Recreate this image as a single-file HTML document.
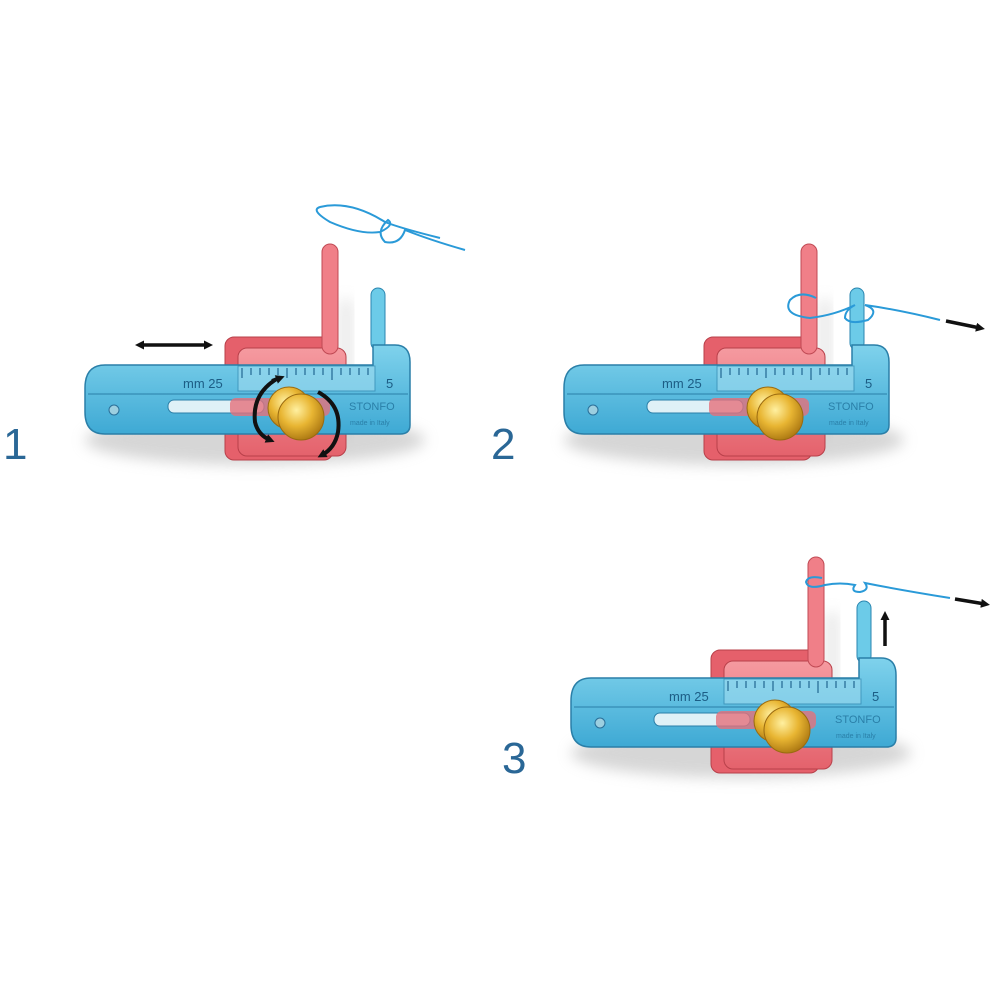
<!DOCTYPE html>
<html><head><meta charset="utf-8"><style>
html,body{margin:0;padding:0;background:#fff;width:1000px;height:1000px;overflow:hidden}
svg{display:block}
text{font-family:"Liberation Sans",sans-serif}
</style></head><body>
<svg width="1000" height="1000" viewBox="0 0 1000 1000" xmlns="http://www.w3.org/2000/svg">
<defs>
<filter id="blur" x="-20%" y="-50%" width="140%" height="200%"><feGaussianBlur stdDeviation="7"/></filter>
<radialGradient id="gold" cx="40%" cy="35%" r="70%"><stop offset="0" stop-color="#fff0a0"/><stop offset="0.5" stop-color="#e8b532"/><stop offset="1" stop-color="#a87410"/></radialGradient>
<linearGradient id="blue" x1="0" y1="0" x2="0" y2="1"><stop offset="0" stop-color="#7fd2ec"/><stop offset="1" stop-color="#3ea9d4"/></linearGradient>
<linearGradient id="red" x1="0" y1="0" x2="0" y2="1"><stop offset="0" stop-color="#f59aa0"/><stop offset="1" stop-color="#e4626c"/></linearGradient>
<marker id="ah" markerWidth="9" markerHeight="9" refX="4" refY="4.5" orient="auto-start-reverse" markerUnits="userSpaceOnUse"><path d="M0,0 L9,4.5 L0,9z" fill="#111"/></marker>
</defs>

<!-- TOOL 1 -->
<g>
<ellipse cx="255" cy="440" rx="170" ry="25" fill="#bbb" opacity="0.6" filter="url(#blur)"/>
<rect x="340" y="300" width="12" height="140" fill="#ccc" opacity="0.5" filter="url(#blur)"/>
<rect x="225" y="337" width="108" height="123" rx="9" fill="#e5606b" stroke="#b8404a"/>
<rect x="238" y="348" width="108" height="108" rx="9" fill="url(#red)" stroke="#b8404a"/>
<rect x="322" y="244" width="16" height="110" rx="8" fill="#f07f88" stroke="#c04a54"/>
<rect x="371" y="288" width="14" height="62" rx="7" fill="#6ccbe8" stroke="#2a86b0"/>
<path d="M105 365 H373 V345 H395 Q410 345 410 362 V425 Q410 434 400 434 H105 Q85 434 85 412 V388 Q85 365 105 365Z" fill="url(#blue)" stroke="#2a7fa8" stroke-width="1.5"/>
<line x1="88" y1="394" x2="408" y2="394" stroke="#2a7fa8"/>
<rect x="238" y="366" width="137" height="25" fill="#9fdcf0" opacity="0.6" stroke="#2a7fa8"/>
<path d="M242 368v10M251 368v7M260 368v7M269 368v7M278 368v7M287 368v10M296 368v7M305 368v7M314 368v7M323 368v7M332 368v12M341 368v7M350 368v7M359 368v7M368 368v7" stroke="#2a6f98" stroke-width="1.3"/>
<text x="183" y="388" font-size="13" fill="#1c5d85">mm 25</text>
<text x="386" y="388" font-size="13" fill="#1c5d85">5</text>
<text x="349" y="410" font-size="11" fill="#2a7fa8">STONFO</text>
<text x="350" y="425" font-size="7" fill="#2a7fa8">made in Italy</text>
<rect x="168" y="400" width="96" height="13" rx="6" fill="#dff1f7" stroke="#2a7fa8"/>
<rect x="230" y="398" width="100" height="18" rx="6" fill="#e5707a" opacity="0.8"/>
<circle cx="114" cy="410" r="5" fill="#9ccfe0" stroke="#2a6f98"/>
<circle cx="289" cy="408" r="21" fill="url(#gold)" stroke="#9a6a10"/>
<circle cx="301" cy="417" r="23" fill="url(#gold)" stroke="#9a6a10"/>
</g>
<path d="M140 345 H208" stroke="#111" stroke-width="3.5" marker-start="url(#ah)" marker-end="url(#ah)"/>
<path d="M275 380 Q252 395 255 422 Q258 435 270 440" fill="none" stroke="#111" stroke-width="4" marker-end="url(#ah)"/>
<path d="M272 381 l8 -3" stroke="#111" stroke-width="4" marker-end="url(#ah)"/>
<path d="M318 392 Q342 405 338 432 Q335 448 322 455" fill="none" stroke="#111" stroke-width="4" marker-end="url(#ah)"/>
<path d="M320 207 Q310 210 330 222 Q360 235 380 232 Q395 225 388 220 Q375 232 385 242 Q400 245 405 230 Q430 240 465 250 M320 207 Q350 200 385 222 Q400 228 440 238" fill="none" stroke="#2a9ad8" stroke-width="2"/>

<!-- TOOL 2 -->
<g transform="translate(479,0)">
<ellipse cx="255" cy="440" rx="170" ry="25" fill="#bbb" opacity="0.6" filter="url(#blur)"/>
<rect x="340" y="300" width="12" height="140" fill="#ccc" opacity="0.5" filter="url(#blur)"/>
<rect x="225" y="337" width="108" height="123" rx="9" fill="#e5606b" stroke="#b8404a"/>
<rect x="238" y="348" width="108" height="108" rx="9" fill="url(#red)" stroke="#b8404a"/>
<rect x="322" y="244" width="16" height="110" rx="8" fill="#f07f88" stroke="#c04a54"/>
<rect x="371" y="288" width="14" height="62" rx="7" fill="#6ccbe8" stroke="#2a86b0"/>
<path d="M105 365 H373 V345 H395 Q410 345 410 362 V425 Q410 434 400 434 H105 Q85 434 85 412 V388 Q85 365 105 365Z" fill="url(#blue)" stroke="#2a7fa8" stroke-width="1.5"/>
<line x1="88" y1="394" x2="408" y2="394" stroke="#2a7fa8"/>
<rect x="238" y="366" width="137" height="25" fill="#9fdcf0" opacity="0.6" stroke="#2a7fa8"/>
<path d="M242 368v10M251 368v7M260 368v7M269 368v7M278 368v7M287 368v10M296 368v7M305 368v7M314 368v7M323 368v7M332 368v12M341 368v7M350 368v7M359 368v7M368 368v7" stroke="#2a6f98" stroke-width="1.3"/>
<text x="183" y="388" font-size="13" fill="#1c5d85">mm 25</text>
<text x="386" y="388" font-size="13" fill="#1c5d85">5</text>
<text x="349" y="410" font-size="11" fill="#2a7fa8">STONFO</text>
<text x="350" y="425" font-size="7" fill="#2a7fa8">made in Italy</text>
<rect x="168" y="400" width="96" height="13" rx="6" fill="#dff1f7" stroke="#2a7fa8"/>
<rect x="230" y="398" width="100" height="18" rx="6" fill="#e5707a" opacity="0.8"/>
<circle cx="114" cy="410" r="5" fill="#9ccfe0" stroke="#2a6f98"/>
<circle cx="289" cy="408" r="21" fill="url(#gold)" stroke="#9a6a10"/>
<circle cx="301" cy="417" r="23" fill="url(#gold)" stroke="#9a6a10"/>
</g>
<path d="M816 298 Q800 290 790 300 Q782 315 810 318 Q835 315 855 305 Q845 310 845 318 Q850 325 868 320 Q880 310 865 305 Q900 310 940 320" fill="none" stroke="#2a9ad8" stroke-width="2"/>
<path d="M946 321 L980 328" stroke="#111" stroke-width="3.5" marker-end="url(#ah)"/>

<!-- TOOL 3 -->
<g transform="translate(486,313)">
<ellipse cx="255" cy="440" rx="170" ry="25" fill="#bbb" opacity="0.6" filter="url(#blur)"/>
<rect x="340" y="300" width="12" height="140" fill="#ccc" opacity="0.5" filter="url(#blur)"/>
<rect x="225" y="337" width="108" height="123" rx="9" fill="#e5606b" stroke="#b8404a"/>
<rect x="238" y="348" width="108" height="108" rx="9" fill="url(#red)" stroke="#b8404a"/>
<rect x="322" y="244" width="16" height="110" rx="8" fill="#f07f88" stroke="#c04a54"/>
<rect x="371" y="288" width="14" height="62" rx="7" fill="#6ccbe8" stroke="#2a86b0"/>
<path d="M105 365 H373 V345 H395 Q410 345 410 362 V425 Q410 434 400 434 H105 Q85 434 85 412 V388 Q85 365 105 365Z" fill="url(#blue)" stroke="#2a7fa8" stroke-width="1.5"/>
<line x1="88" y1="394" x2="408" y2="394" stroke="#2a7fa8"/>
<rect x="238" y="366" width="137" height="25" fill="#9fdcf0" opacity="0.6" stroke="#2a7fa8"/>
<path d="M242 368v10M251 368v7M260 368v7M269 368v7M278 368v7M287 368v10M296 368v7M305 368v7M314 368v7M323 368v7M332 368v12M341 368v7M350 368v7M359 368v7M368 368v7" stroke="#2a6f98" stroke-width="1.3"/>
<text x="183" y="388" font-size="13" fill="#1c5d85">mm 25</text>
<text x="386" y="388" font-size="13" fill="#1c5d85">5</text>
<text x="349" y="410" font-size="11" fill="#2a7fa8">STONFO</text>
<text x="350" y="425" font-size="7" fill="#2a7fa8">made in Italy</text>
<rect x="168" y="400" width="96" height="13" rx="6" fill="#dff1f7" stroke="#2a7fa8"/>
<rect x="230" y="398" width="100" height="18" rx="6" fill="#e5707a" opacity="0.8"/>
<circle cx="114" cy="410" r="5" fill="#9ccfe0" stroke="#2a6f98"/>
<circle cx="289" cy="408" r="21" fill="url(#gold)" stroke="#9a6a10"/>
<circle cx="301" cy="417" r="23" fill="url(#gold)" stroke="#9a6a10"/>
</g>
<path d="M822 578 Q808 575 806 582 Q808 590 825 585 Q840 582 855 585 Q850 592 860 592 Q870 590 865 583 Q900 590 950 598" fill="none" stroke="#2a9ad8" stroke-width="2"/>
<path d="M955 599 L985 604" stroke="#111" stroke-width="3.5" marker-end="url(#ah)"/>
<path d="M885 646 V616" stroke="#111" stroke-width="3.5" marker-end="url(#ah)"/>

<text x="3" y="459" font-size="44" fill="#2a6796">1</text>
<text x="491" y="459" font-size="44" fill="#2a6796">2</text>
<text x="502" y="773" font-size="44" fill="#2a6796">3</text>
</svg>
</body></html>
